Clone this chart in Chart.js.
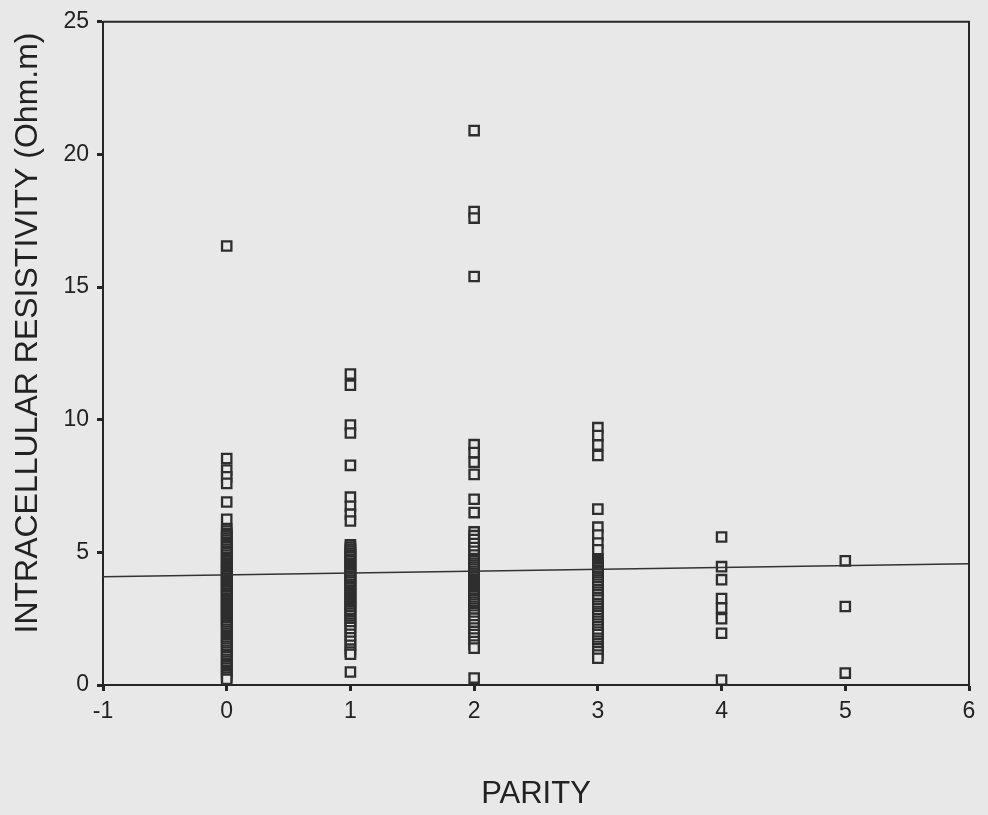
<!DOCTYPE html>
<html>
<head>
<meta charset="utf-8">
<script src="https://cdn.jsdelivr.net/npm/chart.js@4"></script>
<style>
  html, body { margin: 0; padding: 0; background: #e8e8e8; }
  #wrap { width: 988px; height: 815px; }
</style>
</head>
<body>
<div id="wrap"><canvas id="paridadChart" width="988" height="815"></canvas></div>
<script>
// Resistividad intracelular (Ohm.m) por paridad
const paridades = [0, 1, 2, 3, 4, 5];

const paridad0 = [16.55, 8.54, 8.1, 7.85, 7.6, 6.9, 6.25,
  5.88, 5.8, 5.71, 5.62, 5.54, 5.46, 5.37, 5.28, 5.21, 5.12, 5.04, 4.98, 4.9, 4.81, 4.72,
  4.66, 4.6, 4.53, 4.47, 4.41, 4.35, 4.28, 4.22, 4.16, 4.1, 4.03, 3.97, 3.91, 3.85, 3.78,
  3.72, 3.66, 3.6, 3.53, 3.47, 3.41, 3.35, 3.28, 3.22, 3.16, 3.1, 3.03, 2.97, 2.91, 2.85,
  2.78, 2.72, 2.66, 2.6, 2.53, 2.47, 2.41, 2.35, 2.28, 2.2, 2.11, 2.03, 1.95, 1.87, 1.79,
  1.71, 1.63, 1.55, 1.47, 1.39, 1.31, 1.23, 1.14, 1.06, 0.97, 0.89, 0.81, 0.72, 0.64,
  0.55, 0.47, 0.38, 0.3, 0.22];
const paridad1 = [11.72, 11.3, 9.8, 9.5, 8.28, 7.08, 6.74, 6.44, 6.18,
  5.28, 5.2, 5.12, 5.05, 4.97, 4.9, 4.83, 4.75, 4.68, 4.6, 4.53, 4.46, 4.39, 4.3, 4.24,
  4.17, 4.1, 4.02, 3.95, 3.88, 3.8, 3.73, 3.66, 3.58, 3.51, 3.44, 3.36, 3.29, 3.22, 3.14,
  3.07, 3.0, 2.92, 2.85, 2.78, 2.7, 2.62, 2.51, 2.42, 2.33, 2.25, 2.17, 2.04, 1.91, 1.78,
  1.65, 1.5, 1.35, 1.24, 1.16, 0.49];
const paridad2 = [20.9, 17.85, 17.6, 15.4, 9.06, 8.76, 8.4, 7.94, 7.0, 6.5,
  5.77, 5.63, 5.48, 5.33, 5.18, 5.04, 4.9, 4.77, 4.69, 4.6, 4.52, 4.45, 4.37, 4.29, 4.21,
  4.14, 4.06, 3.98, 3.9, 3.83, 3.75, 3.67, 3.59, 3.52, 3.44, 3.36, 3.28, 3.21, 3.13, 3.05,
  2.97, 2.89, 2.81, 2.73, 2.64, 2.52, 2.4, 2.27, 2.15, 2.02, 1.9, 1.77, 1.64, 1.51, 1.39,
  0.26];
const paridad3 = [9.7, 9.4, 9.05, 8.65, 6.63, 5.95, 5.65, 5.35, 5.1,
  4.76, 4.69, 4.61, 4.54, 4.47, 4.4, 4.32, 4.25, 4.18, 4.1, 4.03, 3.96, 3.88, 3.8, 3.7,
  3.6, 3.5, 3.4, 3.3, 3.2, 3.07, 2.98, 2.88, 2.78, 2.7, 2.62, 2.5, 2.4, 2.3, 2.2, 2.1, 2.0,
  1.9, 1.76, 1.66, 1.56, 1.46, 1.36, 1.25, 1.13, 1.01];
const paridad4 = [5.58, 4.46, 3.97, 3.26, 2.9, 2.5, 1.95, 0.19];
const paridad5 = [4.68, 2.96, 0.45];

// Recta de regresión
const rectaX = [-1, 6];
const rectaY = [4.08, 4.57];

const ticksX = [-1, 0, 1, 2, 3, 4, 5, 6];

const fuente = "'Liberation Sans', Arial, Helvetica, sans-serif";
const colorEje = '#262626';
const colorTexto = '#222222';
const colorFondo = '#e8e8e8';

const columnas = [paridad0, paridad1, paridad2, paridad3, paridad4, paridad5];
const puntos = [];
columnas.forEach((valores, i) => {
    valores.forEach(v => puntos.push({ x: paridades[i], y: v }));
});

// Marco superior y derecho + título vertical
const marcoPlugin = {
    id: 'marco',
    afterDraw(chart) {
        const { ctx, chartArea } = chart;
        ctx.save();
        ctx.strokeStyle = colorEje;
        ctx.lineWidth = 2;
        ctx.beginPath();
        ctx.moveTo(chartArea.left, chartArea.top);
        ctx.lineTo(chartArea.right, chartArea.top);
        ctx.lineTo(chartArea.right, chartArea.bottom);
        ctx.stroke();

        ctx.translate(28, 333);
        ctx.rotate(-Math.PI / 2);
        ctx.fillStyle = colorTexto;
        ctx.font = `32px ${fuente}`;
        ctx.textAlign = 'center';
        ctx.textBaseline = 'middle';
        ctx.fillText('INTRACELLULAR RESISTIVITY (Ohm.m)', 0, 0);
        ctx.restore();
    }
};

const ctx = document.getElementById('paridadChart').getContext('2d');

new Chart(ctx, {
    type: 'scatter',
    data: {
        datasets: [
            {
                type: 'line',
                data: rectaX.map((x, i) => ({ x: x, y: rectaY[i] })),
                borderColor: '#333333',
                borderWidth: 1.6,
                pointRadius: 0,
                fill: false
            },
            {
                data: puntos,
                pointStyle: 'rect',
                pointRadius: 6.6,
                borderWidth: 2.3,
                borderColor: '#2e2e2e',
                backgroundColor: colorFondo
            }
        ]
    },
    options: {
        responsive: false,
        animation: false,
        layout: { padding: { top: 18, right: 19, left: 0, bottom: 0 } },
        plugins: {
            legend: { display: false },
            tooltip: { enabled: false }
        },
        scales: {
            x: {
                type: 'linear',
                min: -1,
                max: 6,
                afterBuildTicks: scale => {
                    scale.ticks = ticksX.map(v => ({ value: v }));
                },
                ticks: {
                    color: colorTexto,
                    font: { family: fuente, size: 23 },
                    padding: 7
                },
                grid: {
                    drawOnChartArea: false,
                    tickLength: 6,
                    tickWidth: 3,
                    tickColor: colorEje
                },
                border: { color: colorEje, width: 2 },
                title: {
                    display: true,
                    text: 'PARITY',
                    color: colorTexto,
                    font: { family: fuente, size: 31 },
                    padding: { top: 0, bottom: 2 }
                },
                afterFit: scale => { scale.height = 130; }
            },
            y: {
                min: 0,
                max: 25,
                ticks: {
                    stepSize: 5,
                    color: colorTexto,
                    font: { family: fuente, size: 23 },
                    padding: 8
                },
                grid: {
                    drawOnChartArea: false,
                    tickLength: 6,
                    tickWidth: 3,
                    tickColor: colorEje
                },
                border: { color: colorEje, width: 2 },
                afterFit: scale => { scale.width = 103; }
            }
        }
    },
    plugins: [marcoPlugin]
});
</script>
</body>
</html>
